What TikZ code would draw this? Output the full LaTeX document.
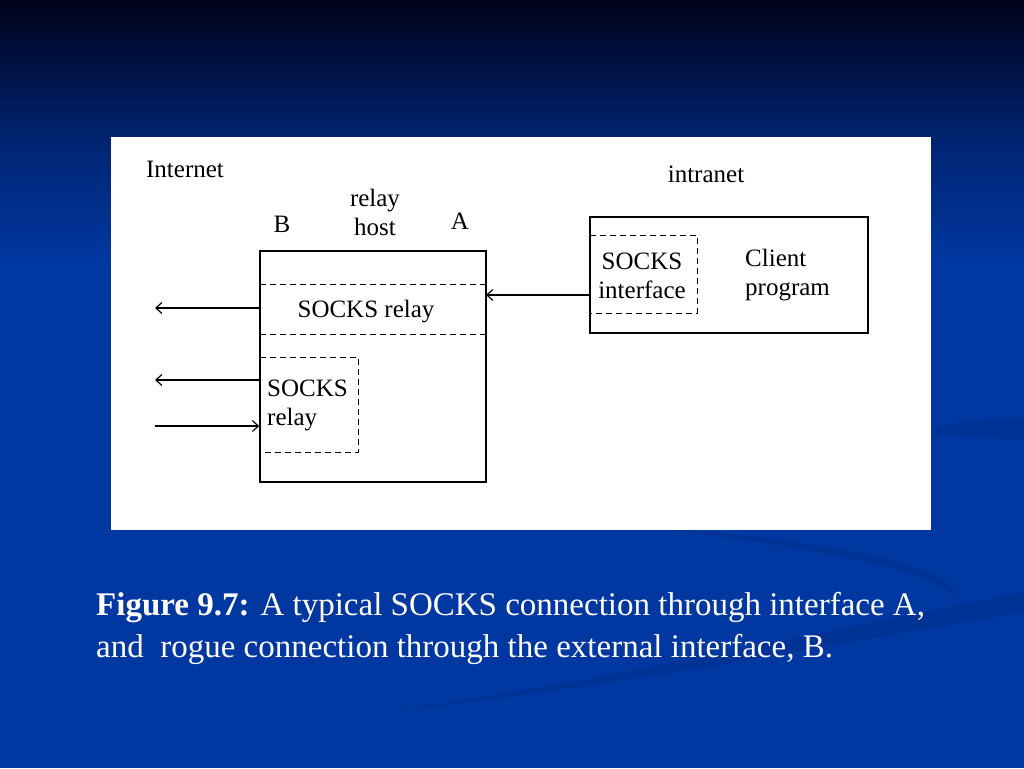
\documentclass[tikz,border=0pt]{standalone}
\usepackage{fontspec}
\setmainfont{Liberation Serif}
\usetikzlibrary{arrows.meta}
\definecolor{bgtop}{HTML}{00021A}
\definecolor{bgmid}{HTML}{002472}
\definecolor{bgblue}{HTML}{0037A0}
\definecolor{swoosh}{HTML}{00318F}

\begin{document}
\begin{tikzpicture}[x=1pt,y=1pt]
            \tikzstyle{every node}+=[inner sep=0pt]
            \tikzstyle{box}=[draw=black, line width=1.6pt, rectangle]
            \tikzstyle{dashline}=[black, line width=1.3pt, dash pattern=on 6pt off 4pt]
            \tikzstyle{arr}=[black, line width=1.2pt, -{Straight Barb[length=6pt,width=11pt]}]
            \tikzstyle{lbl}=[font=\fontsize{25}{29}\selectfont, align=center]
            % slide background
            \fill [bgblue] (0,0) rectangle (1024,-768);
            \shade [top color=bgtop, bottom color=bgmid] (0,0) rectangle (1024,-140);
            \shade [top color=bgmid, bottom color=bgblue] (0,-140) rectangle (1024,-260);
            \fill [swoosh, opacity=0.6] (640,-526) .. controls (820,-540) and (950,-560) .. (960,-600) .. controls (940,-572) and (820,-548) .. (640,-526);
            \fill [swoosh, opacity=0.6] (1024,-592) -- (1024,-612) .. controls (800,-650) and (600,-690) .. (380,-712) .. controls (600,-682) and (800,-636) .. (1024,-592);
            \fill [swoosh, opacity=0.6] (930,-428) .. controls (970,-420) and (1000,-418) .. (1024,-418) -- (1024,-440) .. controls (990,-438) and (960,-436) .. (930,-434);
            \fill [white] (111,-137) rectangle (931,-530);
            % labels
            \node [lbl] (internet) at (185,-169) {Internet};
            \node [lbl] (intranet) at (706,-174) {intranet};
            \node [lbl] (hostlbl) at (375,-212) {relay\\host};
            \node [lbl] (ifB) at (282,-224) {B};
            \node [lbl] (ifA) at (460,-221) {A};
            % relay host
            \node [box, minimum width=226pt, minimum height=231pt] (host) at (373,-366.5) {};
            \node [minimum width=226pt, minimum height=49pt] (relayA) at (373,-309.5) {};
            \node [lbl] (relayAlbl) at (366,-312) {SOCKS relay};
            \draw [dashline] (relayA.north west) -- (relayA.north east);
            \draw [dashline] (relayA.south west) -- (relayA.south east);
            \node [minimum width=98pt, minimum height=94pt] (relayB) at (309,-405) {};
            \draw [dashline] (relayB.north west) -- (relayB.north east) -- (relayB.south east) -- (relayB.south west);
            \node [lbl, align=left, anchor=west] (relayBlbl) at (267,-405) {SOCKS\\relay};
            % client
            \node [box, minimum width=278pt, minimum height=116pt] (client) at (729,-275) {};
            \node [minimum width=107pt, minimum height=77pt] (iface) at (643.5,-274.5) {};
            \draw [dashline] (iface.north west) -- (iface.north east) -- (iface.south east) -- (iface.south west);
            \node [lbl] (ifacelbl) at (642,-276) {SOCKS\\interface};
            \node [lbl, align=left, anchor=west] (prog) at (745,-275) {Client\\program};
            % connections
            \coordinate (toA) at (486,-295);
            \coordinate (outB1) at (155,-308);
            \coordinate (outB2) at (155,-380);
            \coordinate (inB) at (155,-426);
            \draw [arr] (client.west |- toA) -- (toA);
            \draw [arr] (host.west |- outB1) -- (outB1);
            \draw [arr] (host.west |- outB2) -- (outB2);
            \draw [arr] (inB) -- (host.west |- inB);
            % caption
            \node [anchor=base west, align=left, text=white, font=\fontsize{33}{42}\selectfont] (caption) at (96,-657)
                {\textbf{Figure 9.7:} A typical SOCKS connection through interface A,\\and\ \ rogue connection through the external interface, B.};
\end{tikzpicture}
\end{document}
